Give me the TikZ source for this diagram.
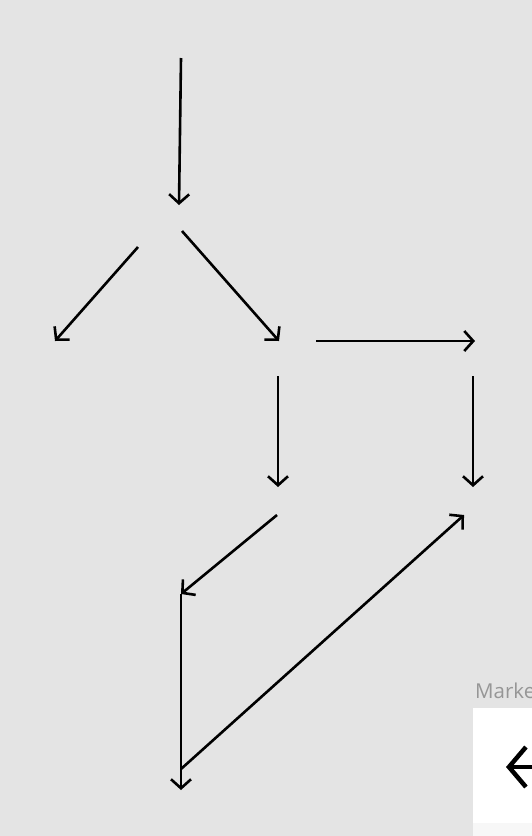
\documentclass[tikz,border=0pt]{standalone}
\usepackage{fontspec}
\setmainfont{Open Sans}
\usepackage{tikz}
\usetikzlibrary{arrows.meta}

\definecolor{bggray}{RGB}{228,228,228}
\definecolor{labelgray}{RGB}{150,150,150}
\definecolor{stripgray}{RGB}{247,247,247}

\tikzset{
  flow/.style={line width=2.6pt,-{Straight Barb[length=9pt,width=20pt]}},
}

\begin{document}
\begin{tikzpicture}[x=1pt,y=-1pt]
  %\draw[step=50,gray,very thin] (0,0) grid (532,836);
  \fill[bggray] (0,0) rectangle (532,836);
  \useasboundingbox (0,0) rectangle (532,836);

  %end points
  \coordinate (top) at (181,58);
  \coordinate (split) at (179,205);
  \coordinate (leftstart) at (138,247);
  \coordinate (leftend) at (55,341);
  \coordinate (midstart) at (182,231);
  \coordinate (midend) at (279,341);
  \coordinate (rightstart) at (316,341);
  \coordinate (rightend) at (475,341);
  \coordinate (middownstart) at (278,376);
  \coordinate (middownend) at (278,487);
  \coordinate (rightdownstart) at (473,376);
  \coordinate (rightdownend) at (473,487);
  \coordinate (backstart) at (277,515);
  \coordinate (backend) at (181,594);
  \coordinate (bottom) at (181,790);
  \coordinate (loopstart) at (181,769);
  \coordinate (loopend) at (464,515);

  %arrows
  \draw[flow] (top) -- (split);
  \draw[flow] (leftstart) -- (leftend);
  \draw[flow] (midstart) -- (midend);
  \draw[flow] (rightstart) -- (rightend);
  \draw[flow] (middownstart) -- (middownend);
  \draw[flow] (rightdownstart) -- (rightdownend);
  \draw[flow] (backstart) -- (backend);
  \draw[flow] (backend) -- (bottom);
  \draw[flow] (loopstart) -- (loopend);

  %marker panel
  \node[anchor=base west,inner sep=0pt,text=labelgray,font=\fontsize{20.5}{24}\selectfont] (marker) at (475,698) {Marke};
  \fill[white] (473,708) rectangle (532,823);
  \fill[stripgray] (473,823) rectangle (532,836);
  \coordinate (tipstart) at (532,767);
  \coordinate (tipend) at (506,767);
  \draw[line width=4.5pt,-{Straight Barb[length=17pt,width=40pt]}] (tipstart) -- (tipend);

\end{tikzpicture}
\end{document}
